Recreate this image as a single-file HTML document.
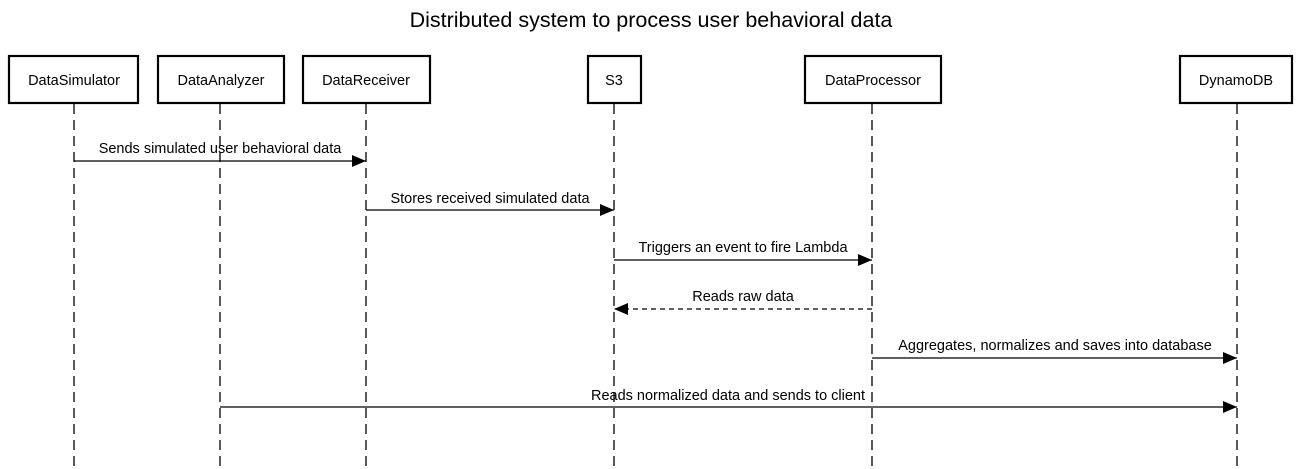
<!DOCTYPE html>
<html><head><meta charset="utf-8"><style>
body{margin:0;background:#fff}
svg{display:block}
text{font-family:"Liberation Sans",Arial,sans-serif;fill:#000}
</style></head><body>
<svg width="1302" height="469" viewBox="0 0 1302 469" xmlns="http://www.w3.org/2000/svg">
<defs>
<marker id="a" markerWidth="14" markerHeight="12" refX="14" refY="6" orient="auto" markerUnits="userSpaceOnUse"><path d="M0,0 L14,6 L0,12 Z" fill="#000"/></marker>
</defs>
<text x="651" y="27" font-size="21.5" text-anchor="middle">Distributed system to process user behavioral data</text>
<g stroke="#000" stroke-width="1.3" stroke-dasharray="10,6">
<line x1="74" y1="104" x2="74" y2="469"/>
<line x1="220" y1="104" x2="220" y2="469"/>
<line x1="366" y1="104" x2="366" y2="469"/>
<line x1="614" y1="104" x2="614" y2="469"/>
<line x1="872" y1="104" x2="872" y2="469"/>
<line x1="1237" y1="104" x2="1237" y2="469"/>
</g>
<g fill="#fff" stroke="#000" stroke-width="2.2">
<rect x="9" y="56" width="129" height="47"/>
<rect x="158" y="56" width="126" height="47"/>
<rect x="303" y="56" width="127" height="47"/>
<rect x="588" y="56" width="53" height="47"/>
<rect x="805" y="56" width="136" height="47"/>
<rect x="1180" y="56" width="112" height="47"/>
</g>
<g font-size="14.5" text-anchor="middle">
<text x="74" y="85">DataSimulator</text>
<text x="221" y="85">DataAnalyzer</text>
<text x="366" y="85">DataReceiver</text>
<text x="614" y="85">S3</text>
<text x="873" y="85">DataProcessor</text>
<text x="1236" y="85">DynamoDB</text>
</g>
<g stroke="#000" stroke-width="1.3">
<line x1="74" y1="161" x2="366" y2="161" marker-end="url(#a)"/>
<line x1="366" y1="210" x2="614" y2="210" marker-end="url(#a)"/>
<line x1="614" y1="260" x2="872" y2="260" marker-end="url(#a)"/>
<line x1="872" y1="309" x2="614" y2="309" stroke-dasharray="5,4" marker-end="url(#a)"/>
<line x1="872" y1="358" x2="1237" y2="358" marker-end="url(#a)"/>
<line x1="220" y1="407" x2="1237" y2="407" marker-end="url(#a)"/>
</g>
<g font-size="14.5" text-anchor="middle">
<text x="220" y="153">Sends simulated user behavioral data</text>
<text x="490" y="203">Stores received simulated data</text>
<text x="743" y="252">Triggers an event to fire Lambda</text>
<text x="743" y="301">Reads raw data</text>
<text x="1055" y="350">Aggregates, normalizes and saves into database</text>
<text x="728" y="400">Reads normalized data and sends to client</text>
</g>
</svg>
</body></html>
